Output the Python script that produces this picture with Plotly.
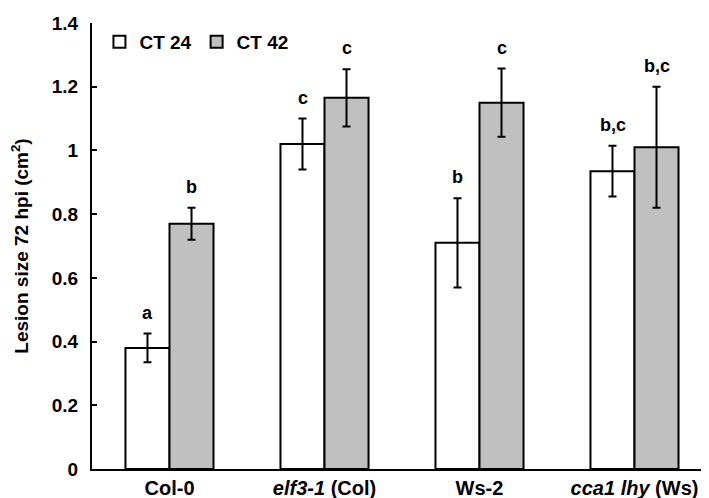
import plotly.graph_objects as go

categories = ["Col-0", "<i>elf3-1</i> (Col)", "Ws-2", "<i>cca1 lhy</i> (Ws)"]
ct24_values = [0.38, 1.02, 0.71, 0.935]
ct24_errors = [0.045, 0.08, 0.14, 0.08]
ct42_values = [0.77, 1.165, 1.15, 1.01]
ct42_errors = [0.05, 0.09, 0.107, 0.19]
ct24_letters = ["a", "c", "b", "b,c"]
ct42_letters = ["b", "c", "c", "b,c"]
y_ticks = [0, 0.2, 0.4, 0.6, 0.8, 1.0, 1.2, 1.4]
y_tick_labels = ["0", "0.2", "0.4", "0.6", "0.8", "1", "1.2", "1.4"]

FONT = "Arial, Liberation Sans, sans-serif"
FS = 19

fig = go.Figure()
fig.add_trace(go.Bar(
    name="CT 24", x=categories, y=ct24_values,
    marker=dict(color="white", line=dict(color="black", width=2)),
    error_y=dict(type="data", array=ct24_errors, color="black", thickness=2, width=4),
))
fig.add_trace(go.Bar(
    name="CT 42", x=categories, y=ct42_values,
    marker=dict(color="#c0c0c0", line=dict(color="black", width=2)),
    error_y=dict(type="data", array=ct42_errors, color="black", thickness=2, width=4),
))

# significance letters above error bars
for i, cat in enumerate(categories):
    fig.add_annotation(x=cat, y=ct24_values[i] + ct24_errors[i], text=ct24_letters[i],
                       xshift=-22, yshift=9, yanchor="bottom", showarrow=False,
                       font=dict(family=FONT, size=18, color="black", weight="bold"))
    fig.add_annotation(x=cat, y=ct42_values[i] + ct42_errors[i], text=ct42_letters[i],
                       xshift=22, yshift=9, yanchor="bottom", showarrow=False,
                       font=dict(family=FONT, size=18, color="black", weight="bold"))

fig.update_layout(
    width=709, height=498,
    margin=dict(l=84, r=5, t=12, b=37),
    paper_bgcolor="white", plot_bgcolor="white",
    barmode="group", bargap=0.432, bargroupgap=0,
    font=dict(family=FONT, color="black"),
    showlegend=True,
    legend=dict(orientation="h", x=0.012, y=1.0, xanchor="left", yanchor="top",
                font=dict(family=FONT, size=FS, color="black", weight="bold"),
                bgcolor="rgba(0,0,0,0)", itemwidth=30, traceorder="normal"),
    xaxis=dict(showline=True, linecolor="black", linewidth=2, ticks="",
               showgrid=False, zeroline=False,
               tickfont=dict(family=FONT, size=20, color="black", weight="bold"),
               range=[-0.5, 3.5]),
    yaxis=dict(showline=True, linecolor="black", linewidth=2, ticks="inside",
               ticklen=5, tickwidth=2, tickcolor="black", ticklabelstandoff=8,
               showgrid=False, zeroline=False, range=[0, 1.4],
               tickvals=y_ticks, ticktext=y_tick_labels,
               tickfont=dict(family=FONT, size=FS, color="black", weight="bold"),
               title=dict(text="Lesion size 72 hpi (cm<sup>2</sup>)", standoff=22,
                          font=dict(family=FONT, size=19, color="black", weight="bold"))),
)

fig.write_html("out.html")
